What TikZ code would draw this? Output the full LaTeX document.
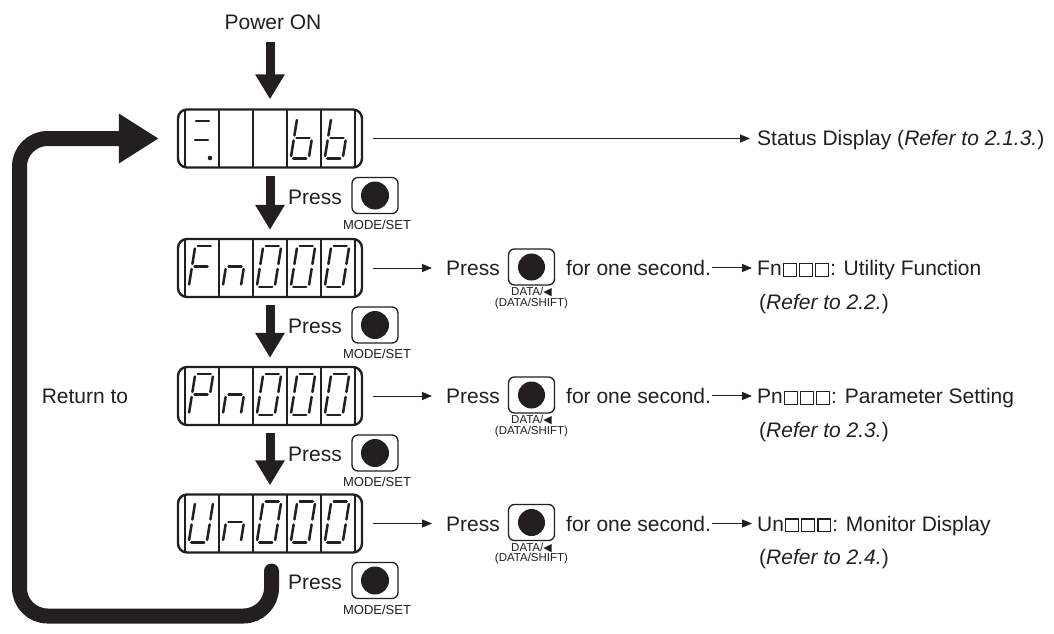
\documentclass[tikz,border=0pt]{standalone}
\usepackage{fontspec}
\setmainfont{Liberation Sans}
\newfontfamily\symfont{DejaVu Sans}
\usetikzlibrary{arrows.meta}
\definecolor{ink}{RGB}{35,31,32}
\newcommand{\wsq}{\kern1.1pt{\setlength\fboxsep{0pt}\setlength\fboxrule{1.2pt}\fbox{\rule{0pt}{11.5pt}\rule{11.5pt}{0pt}}}\kern1.1pt}
\newcommand{\segdigit}[3]{%
  \begin{scope}[shift={(#1,#2)},xslant=0.16]
    \coordinate (a1) at (-6.5,-20.5); \coordinate (a2) at (6.5,-20.5);
    \coordinate (b1) at (9,-18); \coordinate (b2) at (9,-2.5);
    \coordinate (c1) at (9,2.5); \coordinate (c2) at (9,18);
    \coordinate (d1) at (-6.5,20.5); \coordinate (d2) at (6.5,20.5);
    \coordinate (e1) at (-9,2.5); \coordinate (e2) at (-9,18);
    \coordinate (f1) at (-9,-18); \coordinate (f2) at (-9,-2.5);
    \coordinate (g1) at (-6.5,0); \coordinate (g2) at (6.5,0);
    \foreach \s in {#3} {\draw[segline] (\s1) -- (\s2);}
  \end{scope}}
\newcommand{\dividers}[1]{%
  \foreach \xx in {185,219,253,287,321,355} {\draw[divider] (\xx,#1-29) -- (\xx,#1+29);}}
\begin{document}
\begin{tikzpicture}[x=1pt,y=-1pt,
  font=\fontsize{21}{25}\selectfont,
  every node/.style={inner sep=0pt,text=ink},
  display/.style={draw=ink,line width=2.4pt,rounded corners=9pt,minimum width=184pt,minimum height=58pt},
  divider/.style={draw=ink,line width=1.5pt},
  segline/.style={draw=ink,line width=2.5pt,line cap=round},
  bigdown/.style={draw=ink,fill=ink,line width=9pt,-{Triangle[length=25pt,width=28pt]}},
  thinarrow/.style={draw=ink,line width=1pt,-{Triangle[length=10pt,width=8pt]}},
  loopline/.style={draw=ink,line width=15pt,rounded corners=28pt,line cap=round,-{Triangle[length=40pt,width=47pt]}},
  button/.style={draw=ink,line width=1.3pt,rounded corners=6pt,minimum width=46pt,minimum height=36pt},
  dot/.style={fill=ink,circle,minimum size=28pt},
  small/.style={font=\fontsize{13}{14}\selectfont},
  tiny/.style={font=\fontsize{11.5}{9.5}\selectfont,align=center},
]
\fill[white] (0,0) rectangle (1054,634);
\useasboundingbox (0,0) rectangle (1054,634);

% displays
\node[display] (st) at (270,138.5) {};
\node[display] (fn) at (270,268) {};
\node[display] (pn) at (270,396) {};
\node[display] (un) at (270,523.5) {};
\dividers{138.5}
\dividers{268}
\dividers{396}
\dividers{523.5}

% status display glyphs
\draw[segline] (196,121) -- (209,121);
\draw[segline] (195,140) -- (208,140);
\fill[ink] (210,158) circle (2.3);
\segdigit{303}{138}{c,d,e,f,g}
\segdigit{337}{138}{c,d,e,f,g}
% Fn000
\segdigit{201}{266.5}{a,e,f,g}
\segdigit{235}{266.5}{c,e,g}
\segdigit{269}{266.5}{a,b,c,d,e,f}
\segdigit{303}{266.5}{a,b,c,d,e,f}
\segdigit{337}{266.5}{a,b,c,d,e,f}
% Pn000
\segdigit{201}{394.5}{a,b,e,f,g}
\segdigit{235}{394.5}{c,e,g}
\segdigit{269}{394.5}{a,b,c,d,e,f}
\segdigit{303}{394.5}{a,b,c,d,e,f}
\segdigit{337}{394.5}{a,b,c,d,e,f}
% Un000
\segdigit{201}{522}{b,c,d,e,f}
\segdigit{235}{522}{c,e,g}
\segdigit{269}{522}{a,b,c,d,e,f}
\segdigit{303}{522}{a,b,c,d,e,f}
\segdigit{337}{522}{a,b,c,d,e,f}

% power on
\node (pwr) at (273,22) {Power ON};
\draw[bigdown,shorten <=12pt,shorten >=9pt] (pwr.south -| st.north) -- (st.north);

% down arrows with MODE/SET buttons
\draw[bigdown,shorten <=7pt,shorten >=8pt] (st.south) -- (fn.north);
\draw[bigdown,shorten <=7pt,shorten >=8pt] (fn.south) -- (pn.north);
\draw[bigdown,shorten <=7pt,shorten >=8pt] (pn.south) -- (un.north);

\foreach \nm/\yy in {m1/138.5,m2/268,m3/396,m4/523.5}{
  \node[anchor=base west] (\nm p) at (288,\yy+65.5) {Press};
  \node[button] (\nm b) at (375,\yy+57) {};
  \node[dot] (\nm d) at (\nm b) {};
  \node[small] (\nm t) at (377,\yy+86) {MODE/SET};
}

% loop back
\coordinate (loopstart) at (271.5,571);
\coordinate (lb1) at (271.5,616);
\coordinate (lb2) at (19.5,616);
\coordinate (lc) at (19.5,138.5);
\draw[loopline,shorten >=18pt] (loopstart) -- (lb1) -- (lb2) -- (lc) -- (st.west);
\node (ret) at (85,396) {Return to};

% status line
\node[anchor=base west] (sttxt) at (757,145.5) {Status Display (\textit{Refer to 2.1.3.})};
\draw[thinarrow,shorten <=10pt,shorten >=7pt] (st.east) -- (st.east -| sttxt.west);

% right rows
\foreach \dn/\nm/\yy/\pre/\txt/\sec in {fn/r1/268/Fn/Utility Function/2.2.,pn/r2/396/Pn/Parameter Setting/2.3.,un/r3/523.5/Un/Monitor Display/2.4.}{
  \node[anchor=base west] (\nm p) at (446,\yy+7.5) {Press};
  \node[button] (\nm b) at (531.5,\yy-1) {};
  \node[dot,minimum size=27pt] (\nm d) at (\nm b) {};
  \node[tiny] (\nm t) at (531.5,\yy+30) {DATA/{\symfont\fontsize{11}{9.5}\selectfont ◀}\\(DATA/SHIFT)};
  \node[anchor=base west] (\nm s) at (566,\yy+7.5) {for one second.};
  \node[anchor=base west] (\nm f) at (757,\yy+7.5) {\pre\wsq\wsq\wsq: \txt};
  \node[anchor=base west] (\nm r) at (759,\yy+41) {(\textit{Refer to \sec})};
  \draw[thinarrow,shorten <=10pt,shorten >=14pt] (\dn.east) -- (\dn.east -| \nm p.west);
  \draw[thinarrow,shorten <=1pt,shorten >=5pt] (\nm s.east) -- (\nm s.east -| \nm f.west);
}
\end{tikzpicture}
\end{document}
